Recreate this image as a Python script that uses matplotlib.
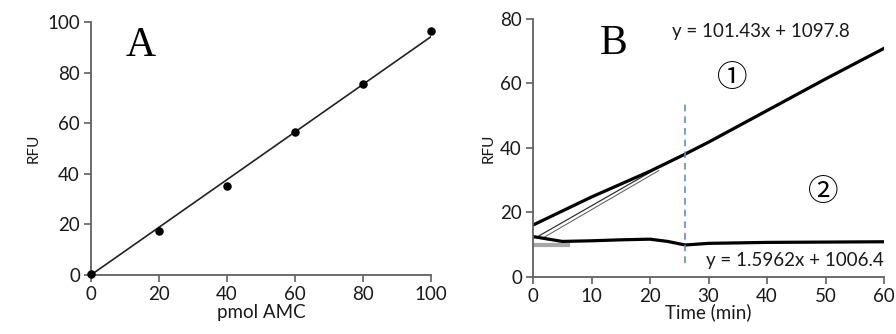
import matplotlib
matplotlib.use('Agg')
import matplotlib.pyplot as plt
import numpy as np

# panel A: AMC standard curve
amc_pmol = [0, 20, 40, 60, 80, 100]
amc_rfu = [0.5, 17.5, 35, 56.5, 75.5, 96.5]
fit_slope = 0.942

# panel B: kinetic traces
t1 = [0, 10, 20, 26, 30, 40, 50, 60]
rfu1 = [16.1, 24.8, 32.8, 38.1, 41.8, 51.6, 61.4, 70.9]
t_thin = [0.6, 21]
rfu_thin = [12.3, 33.5]
t2 = [0, 3, 5, 10, 15, 20, 23, 26, 30, 40, 50, 60]
rfu2 = [12.5, 11.6, 11.0, 11.2, 11.5, 11.7, 11.0, 9.9, 10.4, 10.7, 10.8, 10.9]
t_grey = [0, 6]
rfu_grey = [9.9, 9.9]
t_mark = 26

plt.rcParams['font.family'] = ['Lato', 'DejaVu Sans']
txtc = '#1a1a1a'

fig = plt.figure(figsize=(8.96, 3.34), dpi=100)
axA = fig.add_axes([0.1016, 0.177, 0.3794, 0.757])
axB = fig.add_axes([0.595, 0.171, 0.3916, 0.772])

for ax in (axA, axB):
    for s in ('top', 'right'):
        ax.spines[s].set_visible(False)
    for s in ('left', 'bottom'):
        ax.spines[s].set_color('#606060')
        ax.spines[s].set_linewidth(1.3)
    ax.tick_params(direction='out', length=5, width=1.2, color='#606060',
                   labelsize=13.5, labelcolor=txtc, pad=3)

# A
xx = np.array([0, 100])
axA.plot(xx, fit_slope * xx, color='#222222', lw=1.2)
axA.scatter(amc_pmol, amc_rfu, s=26, color='black', zorder=3, clip_on=False)
axA.set_xlim(0, 100)
axA.set_ylim(0, 100)
axA.set_xticks(range(0, 101, 20))
axA.set_yticks(range(0, 101, 20))
axA.set_xlabel('pmol AMC', fontsize=13.5, labelpad=1, color=txtc)
axA.set_ylabel('RFU', fontsize=11, labelpad=5, color=txtc)
axA.text(0.145, 0.905, 'A', transform=axA.transAxes, fontsize=30,
         family='Liberation Serif', ha='center', va='center')

# B
axB.plot(t_grey, rfu_grey, color='#a8a8a8', lw=3)
axB.plot(t_thin, rfu_thin, color='#333333', lw=0.9)
axB.plot([1.5, 21.5], [11.9, 33.0], color='#555555', lw=0.7)
axB.plot(t1, rfu1, color='black', lw=2.3)
axB.plot(t2, rfu2, color='black', lw=2.3)
axB.plot([t_mark, t_mark], [4.2, 55], color='#5b8fc9', lw=1.2, ls=(0, (4, 3)))
axB.set_xlim(0, 60)
axB.set_ylim(0, 80)
axB.set_xticks(range(0, 61, 10))
axB.set_yticks(range(0, 81, 20))
axB.set_xlabel('Time (min)', fontsize=13.5, labelpad=-1, color=txtc)
axB.set_ylabel('RFU', fontsize=11, labelpad=3, color=txtc)
axB.text(0.23, 0.905, 'B', transform=axB.transAxes, fontsize=30,
         family='Liberation Serif', ha='center', va='center')
axB.text(0.65, 0.95, 'y = 101.43x + 1097.8', transform=axB.transAxes,
         fontsize=13.5, ha='center', va='center', color=txtc)
axB.text(0.567, 0.771, '①', transform=axB.transAxes, fontsize=22,
         family=['Noto Sans CJK JP', 'DejaVu Sans'], ha='center', va='center')
axB.text(0.826, 0.326, '②', transform=axB.transAxes, fontsize=22,
         family=['Noto Sans CJK JP', 'DejaVu Sans'], ha='center', va='center')
axB.text(1.0, 0.065, 'y = 1.5962x + 1006.4', transform=axB.transAxes,
         fontsize=13.5, ha='right', va='center', color=txtc)

fig.savefig('out.png', dpi=100)
